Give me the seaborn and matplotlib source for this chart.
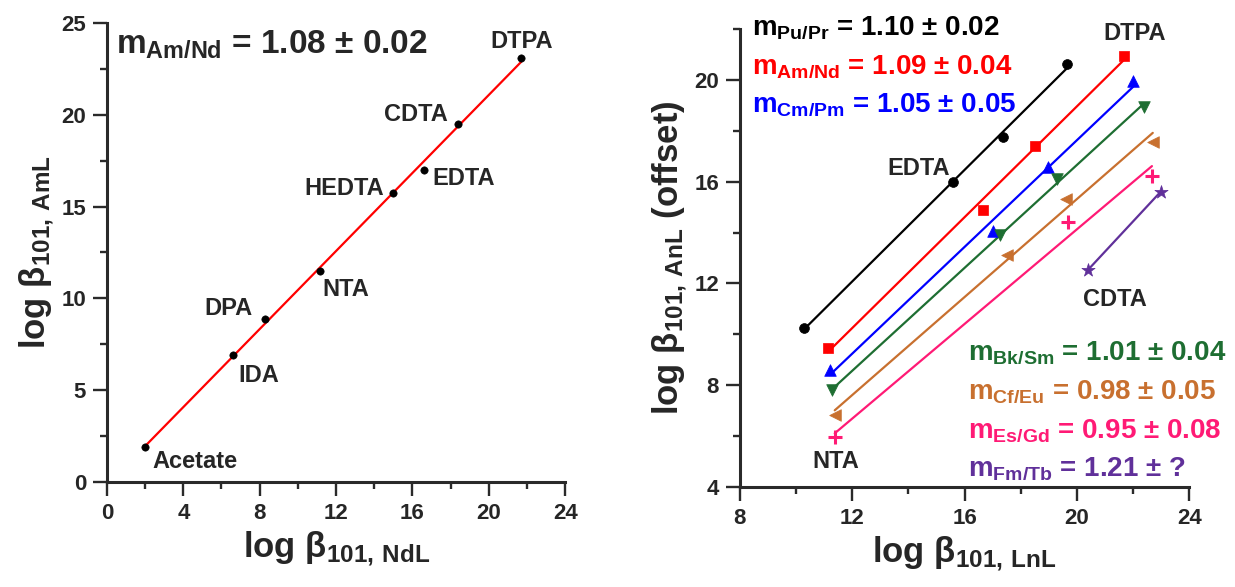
import numpy as np
import pandas as pd
import matplotlib
matplotlib.use("Agg")
import matplotlib.pyplot as plt
from matplotlib.ticker import MultipleLocator
import seaborn as sns

# ---------------- data ----------------
left_ligands = ["Acetate", "IDA", "DPA", "NTA", "HEDTA", "EDTA", "CDTA", "DTPA"]
logb_NdL = [2.0, 6.6, 8.27, 11.15, 15.0, 16.6, 18.4, 21.7]
logb_AmL = [1.9, 6.9, 8.9, 11.5, 15.75, 17.0, 19.5, 23.1]

pairs = ["Pu/Pr", "Am/Nd", "Cm/Pm", "Bk/Sm", "Cf/Eu", "Es/Gd", "Fm/Tb"]
slopes = ["1.10 ± 0.02", "1.09 ± 0.04", "1.05 ± 0.05", "1.01 ± 0.04",
          "0.98 ± 0.05", "0.95 ± 0.08", "1.21 ± ?"]
ln_x = {
    "Pu/Pr": [10.28, 15.58, 17.36, 19.64],
    "Am/Nd": [11.13, 16.65, 18.5, 21.67],
    "Cm/Pm": [11.2, 17.0, 18.96, 22.0],
    "Bk/Sm": [11.3, 17.25, 19.28, 22.38],
    "Cf/Eu": [11.38, 17.5, 19.6, 22.7],
    "Es/Gd": [11.38, 19.7, 22.67],
    "Fm/Tb": [20.4, 22.98],
}
an_y = {
    "Pu/Pr": [10.24, 16.0, 17.74, 20.6],
    "Am/Nd": [9.47, 14.9, 17.4, 20.93],
    "Cm/Pm": [8.6, 14.04, 16.56, 19.94],
    "Bk/Sm": [7.8, 13.9, 16.1, 18.92],
    "Cf/Eu": [6.83, 13.1, 15.3, 17.54],
    "Es/Gd": [5.97, 14.4, 16.2],
    "Fm/Tb": [12.54, 15.6],
}
colors = ["#000000", "#FF0000", "#0000FF", "#1E6E32", "#C8702F", "#FF1A75", "#60309A"]
markers = ["o", "s", "^", "v", "<", "+", "*"]
marker_area = [50, 55, 70, 70, 70, 90, 100]

# ---------------- style ----------------
sns.set_theme(style="ticks")
plt.rcParams["font.family"] = ["Liberation Sans", "DejaVu Sans"]
plt.rcParams["font.weight"] = "bold"
plt.rcParams["mathtext.fontset"] = "custom"
plt.rcParams["mathtext.rm"] = "Liberation Sans:bold"
plt.rcParams["mathtext.it"] = "Liberation Sans:bold"
plt.rcParams["mathtext.bf"] = "Liberation Sans:bold"
plt.rcParams["mathtext.sf"] = "Liberation Sans:bold"
plt.rcParams["mathtext.default"] = "rm"

fig = plt.figure(figsize=(12.35, 5.87), dpi=100)
axL = fig.add_axes([0.0866, 0.179, 0.371, 0.782])
axR = fig.add_axes([0.599, 0.170, 0.364, 0.781])

def style_axis(ax):
    for s in ["top", "right"]:
        ax.spines[s].set_visible(False)
    for s in ["left", "bottom"]:
        ax.spines[s].set_linewidth(2.2)
        ax.spines[s].set_color("#2a2a2a")
    ax.tick_params(which="major", direction="out", length=10, width=1.7,
                   color="#2a2a2a", labelsize=16, pad=5)
    ax.tick_params(which="minor", direction="out", length=5, width=1.7,
                   color="#2a2a2a")
    for lab in ax.get_xticklabels() + ax.get_yticklabels():
        lab.set_fontweight("bold")

# ---------------- left panel ----------------
dfL = pd.DataFrame({"x": logb_NdL, "y": logb_AmL, "lig": left_ligands})
sns.regplot(data=dfL, x="x", y="y", ax=axL, ci=None, scatter=False,
            line_kws=dict(color="#FF0000", lw=1.6, zorder=2))
sns.scatterplot(data=dfL, x="x", y="y", ax=axL, color="black", s=28,
                edgecolor="black", zorder=3, legend=False)

axL.set_xlim(0, 24)
axL.set_ylim(0, 25)
axL.xaxis.set_major_locator(MultipleLocator(4))
axL.xaxis.set_minor_locator(MultipleLocator(2))
axL.yaxis.set_major_locator(MultipleLocator(5))
axL.yaxis.set_minor_locator(MultipleLocator(2.5))
axL.set_xlabel(r"log β$_{101,\,NdL}$", fontsize=25, fontweight="bold")
axL.set_ylabel(r"log β$_{101,\,AmL}$", fontsize=25, fontweight="bold")
style_axis(axL)

left_label_pos = {
    "Acetate": (2.4, 1.1, "left"),
    "IDA": (6.86, 5.77, "left"),
    "DPA": (7.64, 9.45, "right"),
    "NTA": (11.26, 10.5, "left"),
    "HEDTA": (14.5, 16.0, "right"),
    "EDTA": (17.05, 16.5, "left"),
    "CDTA": (17.85, 20.0, "right"),
    "DTPA": (21.7, 24.0, "center"),
}
for lig in left_ligands:
    x, y, ha = left_label_pos[lig]
    axL.text(x, y, lig, ha=ha, va="center", fontsize=17, fontweight="bold")

axL.text(0.47, 23.4, r"m$_{Am/Nd}$ = 1.08 ± 0.02", fontsize=24,
         fontweight="bold", ha="left", va="baseline")

# ---------------- right panel ----------------
for pair, c, m, sz in zip(pairs, colors, markers, marker_area):
    d = pd.DataFrame({"x": ln_x[pair], "y": an_y[pair]})
    sns.regplot(data=d, x="x", y="y", ax=axR, ci=None, scatter=False,
                line_kws=dict(color=c, lw=1.6, zorder=2))
    if m == "+":
        axR.scatter(d["x"], d["y"], marker=m, color=c, s=sz, linewidths=2.2,
                    zorder=3)
    else:
        sns.scatterplot(data=d, x="x", y="y", ax=axR, color=c, marker=m,
                        s=sz, edgecolor=c, linewidth=0.5,
                        zorder=3, legend=False)

axR.set_xlim(8, 24)
axR.set_ylim(4, 22)
axR.xaxis.set_major_locator(MultipleLocator(4))
axR.xaxis.set_minor_locator(MultipleLocator(2))
axR.yaxis.set_major_locator(MultipleLocator(4))
axR.yaxis.set_minor_locator(MultipleLocator(2))
axR.set_yticks([4, 8, 12, 16, 20])
axR.set_xlabel(r"log β$_{101,\,LnL}$", fontsize=25, fontweight="bold")
axR.set_ylabel(r"log β$_{101,\,AnL}$ (offset)", fontsize=25, fontweight="bold")
style_axis(axR)

axR.text(22.06, 21.8, "DTPA", ha="center", va="center", fontsize=17, fontweight="bold")
axR.text(15.47, 16.5, "EDTA", ha="right", va="center", fontsize=17, fontweight="bold")
axR.text(11.4, 5.0, "NTA", ha="center", va="center", fontsize=17, fontweight="bold")
axR.text(21.35, 11.36, "CDTA", ha="center", va="center", fontsize=17, fontweight="bold")

ann_pos = [(8.43, 21.76), (8.43, 20.26), (8.43, 18.76),
           (16.11, 9.0), (16.11, 7.5), (16.11, 5.97), (16.11, 4.47)]
for pair, s, c, (x, y) in zip(pairs, slopes, colors, ann_pos):
    axR.text(x, y, r"m$_{%s}$ = %s" % (pair, s), color=c, fontsize=20,
             fontweight="bold", ha="left", va="baseline", clip_on=False)

fig.savefig("out.png", dpi=100)
